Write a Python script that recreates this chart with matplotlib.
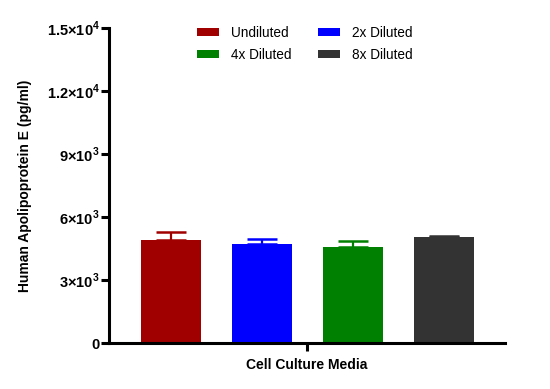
import numpy as np
import matplotlib
matplotlib.use("Agg")
import matplotlib.pyplot as plt
from matplotlib.patches import Patch

plt.rcParams['font.family'] = ['Liberation Sans', 'DejaVu Sans']
plt.rcParams['mathtext.fontset'] = 'custom'
plt.rcParams['mathtext.rm'] = 'Liberation Sans:bold'
plt.rcParams['mathtext.bf'] = 'Liberation Sans:bold'

# data
groups = ["Undiluted", "2x Diluted", "4x Diluted", "8x Diluted"]
means = [4905, 4730, 4570, 5050]
errs = [380, 220, 270, 60]
colors = ["#a00000", "#0000ff", "#008000", "#333333"]
yticks = [0, 3000, 6000, 9000, 12000, 15000]
ytick_labels = ["0", r"$3{\times}10^3$", r"$6{\times}10^3$", r"$9{\times}10^3$",
                r"$1.2{\times}10^4$", r"$1.5{\times}10^4$"]

fig = plt.figure(figsize=(5.5, 3.89), dpi=100)
ax = fig.add_axes([0.198, 0.118, 0.72, 0.81])

x = np.arange(len(groups))
for i in range(len(groups)):
    ax.bar(x[i], means[i], width=0.66, color=colors[i], zorder=2)
    ax.errorbar(x[i], means[i], yerr=[[0], [errs[i]]], fmt='none',
                ecolor=colors[i], elinewidth=1.6, capsize=11, capthick=1.8, zorder=1)

ax.set_xlim(-0.68, 3.67)
ax.set_ylim(0, 15000)
ax.set_yticks(yticks)
ax.set_yticklabels(ytick_labels)
ax.set_xticks([1.5])
ax.set_xticklabels([""])

for s in ['top', 'right']:
    ax.spines[s].set_visible(False)
for s in ['left', 'bottom']:
    ax.spines[s].set_linewidth(2.2)
ax.tick_params(axis='both', width=2.2, length=5.5, labelsize=10.5, pad=1)
for lab in ax.get_yticklabels():
    lab.set_fontweight('bold')

ax.set_ylabel("Human Apolipoprotein E (pg/ml)", fontsize=10, fontweight='bold', labelpad=11)
ax.set_xlabel("Cell Culture Media", fontsize=10, fontweight='bold', labelpad=4)

handles = [Patch(facecolor=colors[i], label=groups[i]) for i in range(len(groups))]
order = [0, 2, 1, 3]
ax.legend([handles[i] for i in order], [groups[i] for i in order], ncol=2,
          loc='upper center', bbox_to_anchor=(0.495, 1.045), frameon=False,
          fontsize=9.8, handlelength=1.6, handleheight=0.55, columnspacing=1.9,
          handletextpad=0.9, labelspacing=0.55)

fig.savefig("out.png", dpi=100)
